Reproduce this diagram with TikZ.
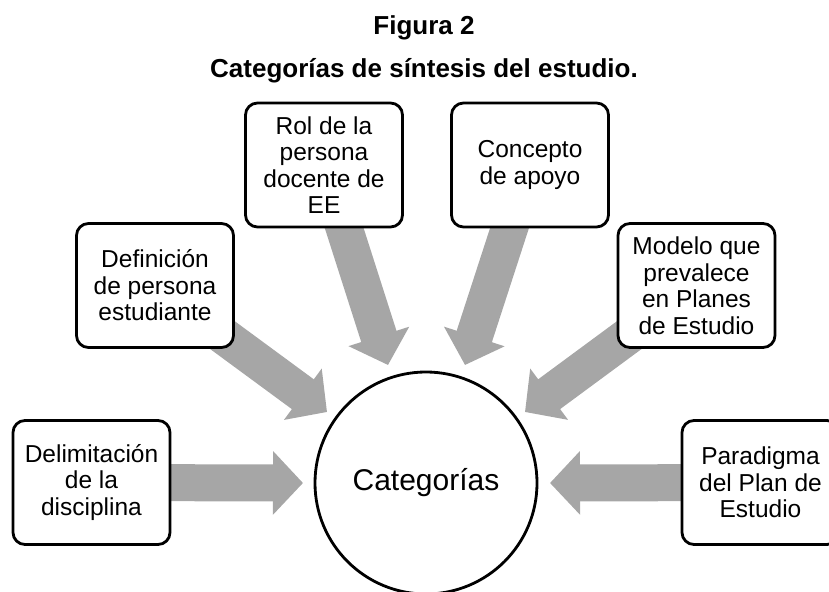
\documentclass[tikz,border=0pt]{standalone}
\usepackage{fontspec}
\setmainfont{Liberation Sans}
\usetikzlibrary{arrows.meta}
\usetikzlibrary{backgrounds}
\definecolor{mgray}{RGB}{166,166,166}
\tikzset{box/.style = {draw, line width=2.8pt, rounded corners=12pt, fill=white,
                       minimum width=157pt, minimum height=124pt, inner sep=0,
                       align=center, font=\fontsize{24.5}{26.5}\selectfont}}
\tikzset{fat/.style = {mgray, line width=37pt, -{Triangle[length=30pt, width=62pt]}}}
\tikzset{ttl/.style = {anchor=base, font=\fontsize{26}{28}\selectfont\bfseries}}

\begin{document}
\begin{tikzpicture}[x=1pt, y=-1pt]
  \useasboundingbox (0,0) rectangle (829,591);
  \clip (0,0) rectangle (829,591);

  \node [ttl] (fig) at (424, 35) {Figura 2};
  \node [ttl] (sub) at (424, 78) {Categorías de síntesis del estudio.};

  \node [circle, draw, line width=2.8pt, minimum size=222pt, inner sep=0,
         font=\fontsize{30}{32}\selectfont] (cat) at (426, 483) {Categorías};

  \node [box] (delim) at (91.5, 482.5) {Delimitación\\de la\\disciplina};
  \node [box] (defin) at (155, 285.5) {Definición\\de persona\\estudiante};
  \node [box] (rol) at (324, 165) {Rol de la\\persona\\docente de\\EE};
  \node [box] (conc) at (530, 165) {Concepto\\de apoyo};
  \node [box] (model) at (696.5, 285.5) {Modelo que\\prevalece\\en Planes\\de Estudio};
  \node [box] (parad) at (760.5, 482.5) {Paradigma\\del Plan de\\Estudio};

  % arrow tips next to the circle
  \coordinate (tdelim) at (303, 483);
  \coordinate (tdefin) at (327, 412);
  \coordinate (trol) at (388, 365);
  \coordinate (tconc) at (465, 365);
  \coordinate (tmodel) at (525, 412);
  \coordinate (tparad) at (550, 483);

  \begin{scope}[on background layer]
    \foreach \b in {delim, defin, rol, conc, model, parad} {
      \draw [fat] (\b.center) -- (t\b);
    }
  \end{scope}
\end{tikzpicture}
\end{document}
